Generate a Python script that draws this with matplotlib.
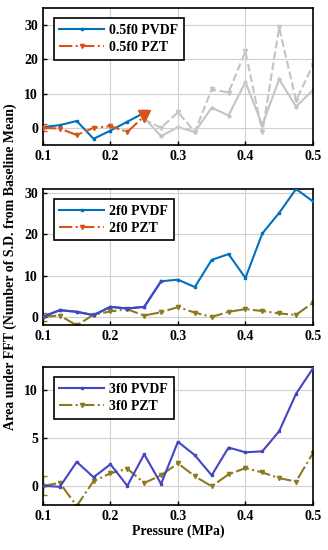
import numpy as np
import matplotlib
matplotlib.use('Agg')
import matplotlib.pyplot as plt

plt.rcParams['font.family'] = ['Liberation Serif', 'DejaVu Serif']
plt.rcParams['font.weight'] = 'bold'

pressure = [0.1, 0.125, 0.15, 0.175, 0.2, 0.225, 0.25, 0.275, 0.3,
            0.325, 0.35, 0.375, 0.4, 0.425, 0.45, 0.475, 0.5]

# 0.5f0 (only up to 0.25 MPa in colour, rest greyed out)
half_pvdf = [0.2, 0.8, 2.0, -3.2, -0.8, 1.8, 4.4]
half_pzt = [0.0, -0.2, -2.1, 0.0, 0.5, -1.2, 3.4]
half_grey_pvdf = [2.9, -2.4, 0.2, -1.2, 5.9, 3.6, 13.4, 0.8, 14.2, 6.2, 11.0]
half_grey_pzt = [2.4, 0.0, 4.6, -1.2, 11.2, 10.3, 22.3, -1.2, 29.3, 8.0, 18.3]

# 2f0
two_pvdf = [0.0, 1.6, 1.2, 0.4, 2.4, 2.0, 2.4, 8.6, 9.0, 7.2, 13.8, 15.2,
            9.4, 20.2, 25.2, 31.0, 28.0]
# PZT is the same for 2f0 and 3f0 panels
pzt_h = [0.0, 0.3, -2.1, 0.5, 1.3, 1.8, 0.3, 1.1, 2.35, 1.0, -0.05, 1.2,
         1.85, 1.4, 0.8, 0.45, 3.4]

# 3f0
three_pvdf = [0.0, -0.1, 2.5, 0.9, 2.25, 0.0, 3.3, 0.2, 4.6, 3.2, 1.1, 4.0,
              3.5, 3.6, 5.7, 9.6, 12.25]

blue = '#0072BD'
orange = '#D95319'
purple_blue = '#4444C4'
olive = '#8C7A1C'
grey = '#C4C4C4'

fig = plt.figure(figsize=(3.28, 5.5), dpi=100)
left, width = 0.131, 0.823
ax1 = fig.add_axes([left, 0.7364, width, 0.2491])
ax2 = fig.add_axes([left, 0.4091, width, 0.2473])
ax3 = fig.add_axes([left, 0.0818, width, 0.2509])

# top panel
n = len(half_pvdf)
ax1.plot(pressure[n - 1:], half_grey_pvdf, color=grey, lw=1.5, marker='.', ms=4, zorder=1)
ax1.plot(pressure[n - 1:], half_grey_pzt, color=grey, lw=1.5, ls='--', marker='v', ms=3, zorder=1)
ax1.plot(pressure[:n], half_pvdf, color=blue, lw=1.5, marker='s', ms=2, label='0.5f0 PVDF', zorder=3)
ax1.plot(pressure[:n], half_pzt, color=orange, lw=1.5, ls='-.', marker='v', ms=3, label='0.5f0 PZT', zorder=3)
ax1.plot(pressure[n - 1], half_pvdf[-1], 's', color=blue, ms=5, zorder=4)
ax1.plot(pressure[n - 1], half_pzt[-1], 'v', color=orange, ms=8, zorder=4)
ax1.errorbar(pressure[0], half_pzt[0], yerr=1, color=orange, capsize=3, lw=1, zorder=2)
ax1.set_ylim(-5, 35)
ax1.set_yticks([0, 10, 20, 30])

# middle panel
ax2.plot(pressure, two_pvdf, color=blue, lw=1.5, marker='s', ms=2, label='2f0 PVDF', zorder=3)
ax2.plot(pressure[:8], two_pvdf[:8], color=purple_blue, lw=1.5, marker='s', ms=2, zorder=3)
ax2.plot(pressure, pzt_h, color=olive, lw=1.5, ls='-.', marker='v', ms=3, zorder=2)
ax2.plot([], [], color=orange, lw=1.5, ls='-.', marker='v', ms=3, label='2f0 PZT')
ax2.errorbar(pressure[0], pzt_h[0], yerr=1, color=olive, capsize=3, lw=1, zorder=2)
ax2.set_ylim(-2, 31)
ax2.set_yticks([0, 10, 20, 30])

# bottom panel
ax3.plot(pressure, three_pvdf, color=purple_blue, lw=1.5, marker='s', ms=2, label='3f0 PVDF', zorder=3)
ax3.plot(pressure, pzt_h, color=olive, lw=1.5, ls='-.', marker='v', ms=3, label='3f0 PZT', zorder=2)
ax3.errorbar(pressure[0], pzt_h[0], yerr=1, color=olive, capsize=3, lw=1, zorder=2)
ax3.set_ylim(-2, 12.4)
ax3.set_yticks([0, 5, 10])
ax3.set_xlabel('Pressure (MPa)', fontsize=10, fontweight='bold', labelpad=1)

for ax in (ax1, ax2, ax3):
    ax.set_xlim(0.1, 0.5)
    ax.set_xticks([0.1, 0.2, 0.3, 0.4, 0.5])
    ax.grid(True, color='#d0d0d0', lw=0.8)
    ax.tick_params(labelsize=10, direction='in', length=3, width=1)
    for s in ax.spines.values():
        s.set_linewidth(1.2)
    leg = ax.legend(loc='upper left', bbox_to_anchor=(0.04, 0.925), fontsize=10,
                    frameon=True, fancybox=False, edgecolor='black',
                    handlelength=3.2, borderpad=0.4, labelspacing=0.3,
                    handletextpad=0.4, borderaxespad=0)
    leg.get_frame().set_linewidth(1.2)
    leg.get_frame().set_alpha(1)

fig.text(0.03, 0.515, 'Area under FFT (Number of S.D. from Baseline Mean)',
         rotation=90, ha='center', va='center', fontsize=10, fontweight='bold')

fig.savefig('out.png', dpi=100)
